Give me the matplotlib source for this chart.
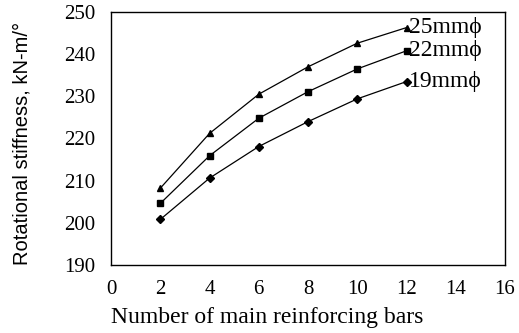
import matplotlib
matplotlib.use('Agg')
import matplotlib.pyplot as plt

bars = [2, 4, 6, 8, 10, 12]
k_25mm = [208.2, 221.2, 230.5, 237.0, 242.6, 246.3]
k_22mm = [204.6, 215.9, 224.8, 231.1, 236.5, 240.8]
k_19mm = [200.8, 210.6, 218.1, 224.0, 229.4, 233.5]
labels = ['25mm\u03d5', '22mm\u03d5', '19mm\u03d5']

serif = ['Liberation Serif', 'DejaVu Serif']
plt.rcParams['font.family'] = serif

fig = plt.figure(figsize=(5.19, 3.33), dpi=100)
ax = fig.add_axes([0.2139, 0.2042, 0.7592, 0.7598])

series = [(k_25mm, '^'), (k_22mm, 's'), (k_19mm, 'D')]
for (vals, mk), lab in zip(series, labels):
    ax.plot(bars, vals, color='black', lw=0.9, marker=mk, ms=4.5 if mk != 'D' else 3.8)
    ax.annotate(lab, (bars[-1], vals[-1]), xytext=(2, 0), textcoords='offset points',
                ha='left', va='center', fontsize=17, family=serif)

ax.set_xlim(0, 16)
ax.set_ylim(190, 250)
ax.set_xticks(range(0, 17, 2))
ax.set_yticks(range(190, 251, 10))
ax.tick_params(length=0, labelsize=15)
ax.tick_params(axis='y', pad=11.5)
ax.tick_params(axis='x', pad=10.5)
for s in ax.spines.values():
    s.set_linewidth(1.0)

ax.set_xlabel('Number of main reinforcing bars', fontsize=17)
ax.xaxis.set_label_coords(0.397, -0.165)
ax.set_ylabel('Rotational stiffness, kN-m/\u00b0', fontsize=14.5,
              family=['Liberation Sans', 'DejaVu Sans'])
ax.yaxis.set_label_coords(-0.203, 0.48)

fig.savefig('out.png', dpi=100)
